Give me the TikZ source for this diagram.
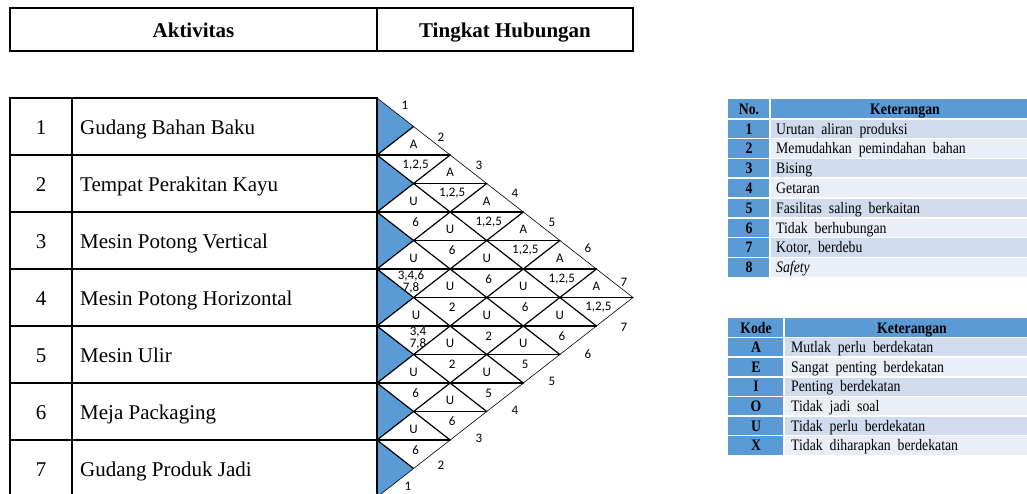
\documentclass[tikz,border=0pt]{standalone}
\usepackage{fontspec}
\setmainfont{Liberation Serif}
\newfontfamily\chartfont{Carlito}
\newfontfamily\tabfont[WordSpace=2]{Liberation Serif}
\usepackage{graphicx}
\definecolor{hdrblue}{HTML}{5B9BD5}
\definecolor{rowodd}{HTML}{D0DBEE}
\definecolor{roweven}{HTML}{E9EEF7}
\newcommand{\sq}[1]{\scalebox{0.86}[1]{#1}}
\newcommand{\arcpair}[4]{%
  \pgfmathsetmacro{\arcx}{377+(#2-#1)*256/7}%
  \pgfmathsetmacro{\arcy}{98+(#1+#2-1)*28.5}%
  \node[lbl] (up#1#2) at (\arcx,\arcy-11) {#3};%
  \node[lbl] (lo#1#2) at (\arcx+2,\arcy+10) {#4};}
\begin{document}
\begin{tikzpicture}[x=1pt,y=-1pt,
  cellbox/.style={draw, line width=1.2pt, inner sep=0pt, outer sep=0pt},
  bigtext/.style={font=\fontsize{21}{25}\selectfont, inner sep=0pt},
  hdrtext/.style={font=\bfseries\fontsize{21}{25}\selectfont, inner sep=0pt},
  mesh/.style={line width=1.2pt, line cap=round},
  outer/.style={line width=0.6pt},
  lbl/.style={font=\chartfont\fontsize{13}{9}\selectfont, inner sep=0pt, align=center},
  tabtxt/.style={font=\tabfont\fontsize{16}{18}\selectfont, inner sep=0pt},
  tabbold/.style={font=\tabfont\bfseries\fontsize{16}{18}\selectfont, inner sep=0pt},
  sep/.style={white, line width=1.6pt}]
\useasboundingbox (0,0) rectangle (1027,493);
\clip (0,0) rectangle (1027,493);

% ---------- header ----------
\node[cellbox, minimum width=367pt, minimum height=43pt] (hA) at (193.5,29.5) {};
\node[cellbox, minimum width=256pt, minimum height=43pt] (hB) at (505,29.5) {};
\node[hdrtext, anchor=base] (hAt) at (193.5,37.5) {Aktivitas};
\node[hdrtext, anchor=base] (hBt) at (505,37.5) {Tingkat Hubungan};

% ---------- lattice ----------
\foreach \i in {0,...,7}{\foreach \j in {0,...,14}{
  \coordinate (p\i-\j) at ({377+\i*256/7},{98+\j*28.5});}}

% blue half diamonds
\foreach \a/\b/\c in {0/1/2, 2/3/4, 4/5/6, 6/7/8, 8/9/10, 10/11/12, 12/13/14}
  \fill[hdrblue] (p0-\a) -- (p1-\b) -- (p0-\c) -- cycle;

% horizontal split lines
\foreach \k/\l/\r in {2/0/2, 3/1/3, 4/0/4, 5/1/5, 6/0/6, 7/1/7, 8/0/6, 9/1/5, 10/0/4, 11/1/3, 12/0/2}
  \draw[mesh] (p\l-\k) -- (p\r-\k);
% down-right diagonals
\foreach \m/\e/\f in {2/6/8, 4/5/9, 6/4/10, 8/3/11, 10/2/12, 12/1/13}
  \draw[mesh] (p0-\m) -- (p\e-\f);
% up-right diagonals
\foreach \m/\e in {2/1, 4/2, 6/3, 8/4, 10/5, 12/6}
  \draw[mesh] (p0-\m) -- (p\e-\e);
% outer edges
\draw[outer] (p0-0) -- (p7-7) -- (p0-14);

% ---------- left table ----------
\foreach \r/\name in {1/Gudang Bahan Baku, 2/Tempat Perakitan Kayu, 3/Mesin Potong Vertical,
    4/Mesin Potong Horizontal, 5/Mesin Ulir, 6/Meja Packaging, 7/Gudang Produk Jadi}{
  \pgfmathsetmacro{\yc}{98+(\r-0.5)*57}
  \node[cellbox, minimum width=62pt, minimum height=57pt] (c\r) at (41,\yc) {};
  \node[cellbox, minimum width=305pt, minimum height=57pt] (d\r) at (224.5,\yc) {};
  \node[bigtext, anchor=base] (cn\r) at (41,\yc+8) {\r};
  \node[bigtext, anchor=base west] (dn\r) at (80,\yc+8) {\name};
}

% ---------- diamond contents ----------
\arcpair{1}{2}{A}{1,2,5}
\arcpair{1}{3}{A}{1,2,5}
\arcpair{1}{4}{A}{1,2,5}
\arcpair{1}{5}{A}{1,2,5}
\arcpair{1}{6}{A}{1,2,5}
\arcpair{1}{7}{A}{1,2,5}
\arcpair{2}{3}{U}{6}
\arcpair{2}{4}{U}{6}
\arcpair{2}{5}{U}{6}
\arcpair{2}{6}{U}{6}
\arcpair{2}{7}{U}{6}
\arcpair{3}{5}{U}{2}
\arcpair{3}{6}{U}{2}
\arcpair{3}{7}{U}{5}
\arcpair{4}{6}{U}{2}
\arcpair{4}{7}{U}{5}
\arcpair{5}{6}{U}{6}
\arcpair{5}{7}{U}{6}
\arcpair{6}{7}{U}{6}
\node[lbl] (up34) at (413.6,258) {U};
\node[lbl] (lo34) at (411,282) {3,4,6\\7,8};
\node[lbl] (up45) at (416,315) {U};
\node[lbl] (lo45) at (418,338) {3,4\\7,8};

% ---------- edge numbers ----------
\foreach \n/\x/\y in {1/405/105, 2/441/137, 3/479/165, 4/515/193, 5/552/222, 6/588/248, 7/624/282}
  \node[lbl] (ue\n) at (\x,\y) {\n};
\foreach \n/\x/\y in {7/624/327, 6/588/354, 5/552/381, 4/515/410, 3/479/438, 2/441/465, 1/408/486.5}
  \node[lbl] (le\n) at (\x,\y) {\n};

% ---------- table 1 ----------
\foreach \r/\col in {0/hdrblue,1/rowodd,2/roweven,3/rowodd,4/roweven,5/rowodd,6/roweven,7/rowodd,8/roweven}{
  \pgfmathsetmacro{\tbtop}{99+\r*19.8}
  \fill[hdrblue] (728,\tbtop) rectangle (770,\tbtop+19.8);
  \fill[\col] (770,\tbtop) rectangle (1040,\tbtop+19.8);
}
\foreach \r in {1,...,8}\draw[sep] (728,{99+\r*19.8}) -- (1040,{99+\r*19.8});
\draw[sep] (770,99) -- (770,277.2);
\node[tabbold, anchor=base] (t1h1) at (749,114.2) {\sq{No.}};
\node[tabbold, anchor=base] (t1h2) at (905,114.2) {\sq{Keterangan}};
\foreach \r/\t in {1/Urutan aliran produksi, 2/Memudahkan pemindahan bahan, 3/Bising, 4/Getaran,
    5/Fasilitas saling berkaitan, 6/Tidak berhubungan, 7/{Kotor, berdebu}, 8/\textit{Safety}}{
  \pgfmathsetmacro{\tby}{99+\r*19.8+9.9+5.3}
  \node[tabbold, anchor=base] (no\r) at (749,\tby) {\sq{\r}};
  \node[tabtxt, anchor=base west] (kt\r) at (776,\tby) {\sq{\t}};
}

% ---------- table 2 ----------
\foreach \r/\col in {0/hdrblue,1/rowodd,2/roweven,3/rowodd,4/roweven,5/rowodd,6/roweven}{
  \pgfmathsetmacro{\tbtop}{318+\r*19.6}
  \fill[hdrblue] (728,\tbtop) rectangle (784,\tbtop+19.6);
  \fill[\col] (784,\tbtop) rectangle (1040,\tbtop+19.6);
}
\foreach \r in {1,...,6}\draw[sep] (728,{318+\r*19.6}) -- (1040,{318+\r*19.6});
\draw[sep] (784,318) -- (784,455.6);
\node[tabbold, anchor=base] (t2h1) at (756,333.1) {\sq{Kode}};
\node[tabbold, anchor=base] (t2h2) at (912,333.1) {\sq{Keterangan}};
\foreach \r/\c/\t in {1/A/Mutlak perlu berdekatan, 2/E/Sangat penting berdekatan, 3/I/Penting berdekatan,
    4/O/Tidak jadi soal, 5/U/Tidak perlu berdekatan, 6/X/Tidak diharapkan berdekatan}{
  \pgfmathsetmacro{\tby}{318+\r*19.6+9.8+5.3}
  \node[tabbold, anchor=base] (kd\r) at (756,\tby) {\sq{\c}};
  \node[tabtxt, anchor=base west] (kk\r) at (791,\tby) {\sq{\t}};
}
\end{tikzpicture}
\end{document}
